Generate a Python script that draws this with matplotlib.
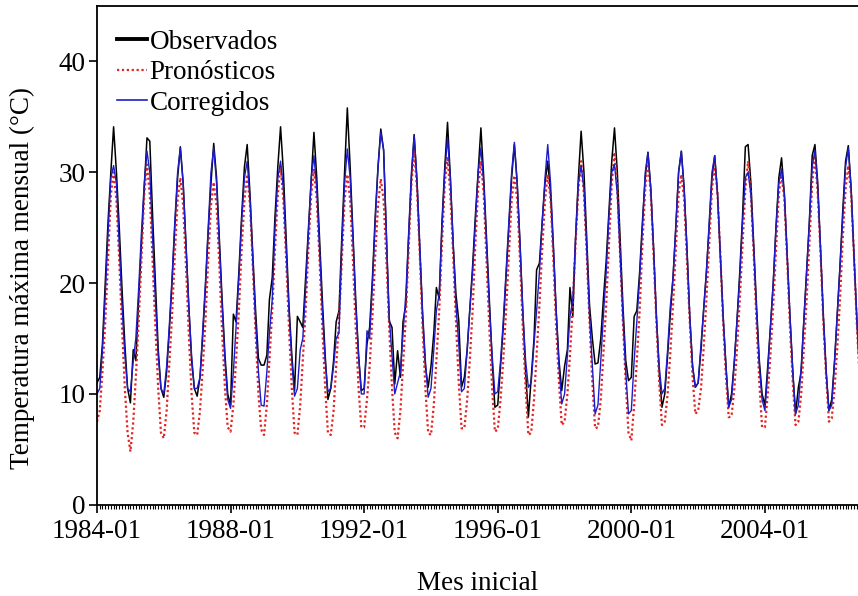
import matplotlib
matplotlib.use('Agg')
import matplotlib.pyplot as plt
import matplotlib.dates as mdates
from matplotlib.lines import Line2D
import numpy as np
import pandas as pd

plt.rcParams['font.family'] = ['Liberation Serif', 'DejaVu Serif']

# monthly maximum temperature (degC), one row per year, Jan..Dec, 1984-2006
observados = [
    [11.0, 11.5, 14.5, 20.0, 25.5, 30.0, 34.1, 30.0, 25.0, 19.5, 14.5, 10.5],
    [9.2, 14.0, 13.0, 18.5, 23.5, 28.5, 33.1, 32.8, 26.0, 20.0, 14.0, 10.5],
    [9.7, 12.0, 15.5, 20.0, 25.0, 29.5, 32.3, 29.0, 23.5, 18.0, 13.0, 10.5],
    [9.8, 11.5, 15.0, 19.5, 24.5, 29.0, 32.6, 29.5, 24.0, 18.5, 13.5, 10.0],
    [9.0, 17.2, 16.5, 21.0, 26.0, 30.5, 32.5, 28.0, 22.5, 17.5, 13.2, 12.6],
    [12.6, 13.5, 18.5, 20.5, 26.0, 30.5, 34.1, 30.0, 24.0, 18.0, 13.5, 10.3],
    [17.0, 16.5, 16.0, 20.5, 25.0, 29.5, 33.6, 29.5, 24.0, 18.5, 13.5, 9.5],
    [10.5, 13.0, 16.5, 17.5, 24.0, 30.0, 35.8, 30.5, 24.5, 18.5, 13.5, 10.3],
    [10.5, 14.5, 16.0, 20.5, 26.0, 30.5, 33.9, 32.0, 24.0, 16.6, 16.0, 10.9],
    [13.9, 11.5, 16.5, 18.0, 24.0, 29.5, 33.4, 29.0, 23.0, 17.0, 12.5, 10.6],
    [12.5, 15.5, 19.6, 18.6, 25.5, 30.5, 34.5, 29.5, 23.5, 19.0, 16.6, 10.6],
    [11.5, 14.0, 17.5, 21.5, 26.0, 30.0, 34.0, 29.5, 24.0, 18.5, 13.0, 8.8],
    [9.0, 12.5, 16.0, 20.5, 25.0, 29.5, 32.5, 29.0, 23.5, 17.5, 12.0, 7.9],
    [11.5, 15.0, 21.2, 21.8, 25.5, 29.0, 31.0, 28.0, 23.0, 17.5, 13.0, 10.3],
    [12.5, 14.0, 19.6, 17.0, 24.0, 29.5, 33.7, 30.0, 24.0, 18.0, 15.0, 12.7],
    [12.8, 15.0, 18.5, 22.0, 26.5, 31.0, 34.0, 30.0, 24.0, 18.0, 13.0, 11.2],
    [11.5, 17.0, 17.5, 21.0, 25.5, 29.5, 31.8, 28.5, 23.0, 17.0, 12.0, 8.8],
    [10.0, 13.5, 17.0, 20.5, 25.0, 30.0, 31.9, 28.5, 23.0, 17.0, 12.5, 10.6],
    [11.0, 14.0, 17.5, 21.0, 25.0, 29.5, 31.5, 28.0, 22.5, 17.0, 12.5, 8.8],
    [10.0, 13.0, 16.5, 21.0, 26.0, 32.3, 32.5, 29.0, 23.5, 18.0, 13.0, 10.0],
    [9.0, 12.5, 16.0, 20.0, 25.0, 29.5, 31.3, 28.0, 22.5, 17.0, 12.0, 8.2],
    [10.6, 12.0, 16.5, 21.0, 25.5, 31.5, 32.5, 29.0, 23.0, 17.0, 12.0, 8.5],
    [9.5, 13.0, 17.0, 21.5, 26.5, 31.0, 32.4, 28.5, 22.5, 17.0, 12.0, 9.5],
]

pronosticos = [
    [7.5, 8.5, 12.0, 16.5, 22.0, 28.0, 30.0, 27.5, 22.0, 16.0, 10.5, 6.5],
    [4.8, 7.5, 11.5, 16.5, 22.0, 28.0, 30.7, 28.0, 22.0, 16.0, 10.5, 6.5],
    [6.0, 8.5, 12.5, 17.0, 22.5, 27.5, 29.5, 27.0, 21.5, 15.5, 10.0, 6.5],
    [6.3, 8.5, 12.0, 16.5, 22.0, 27.0, 29.1, 27.0, 21.5, 15.5, 10.5, 7.0],
    [6.6, 9.0, 13.0, 17.5, 23.0, 27.5, 29.8, 27.0, 21.5, 15.5, 10.0, 6.8],
    [6.3, 9.0, 13.0, 17.5, 23.0, 28.0, 30.6, 27.5, 22.0, 16.0, 10.5, 6.5],
    [6.3, 9.0, 13.0, 17.5, 23.0, 28.0, 30.3, 27.5, 22.0, 16.0, 10.5, 6.5],
    [6.3, 8.5, 12.5, 16.5, 22.0, 27.5, 29.8, 27.5, 22.0, 16.0, 10.5, 7.0],
    [7.0, 9.5, 12.5, 17.0, 22.5, 27.0, 29.4, 27.5, 22.0, 16.0, 10.5, 6.5],
    [6.0, 8.5, 12.5, 17.0, 23.0, 29.0, 31.9, 28.5, 22.5, 16.0, 10.5, 6.5],
    [6.3, 9.0, 13.0, 17.5, 23.5, 29.0, 31.4, 28.0, 22.5, 16.5, 11.0, 6.9],
    [6.9, 9.5, 13.0, 17.5, 23.5, 28.5, 31.0, 28.0, 22.0, 16.0, 10.5, 6.6],
    [6.8, 9.5, 13.0, 17.5, 22.5, 27.5, 29.7, 27.5, 22.0, 16.0, 10.5, 6.3],
    [6.5, 9.5, 13.5, 18.0, 23.0, 27.5, 29.8, 27.5, 22.0, 16.0, 11.0, 7.2],
    [7.5, 10.0, 13.5, 18.0, 23.5, 28.5, 31.0, 28.0, 22.5, 16.5, 11.0, 6.9],
    [7.0, 9.5, 13.5, 18.0, 23.5, 29.0, 31.8, 28.5, 22.5, 16.5, 11.0, 6.5],
    [5.8, 9.0, 13.0, 17.5, 23.5, 28.5, 31.0, 28.0, 22.5, 16.5, 11.0, 7.2],
    [7.5, 10.0, 13.5, 18.0, 23.0, 28.0, 29.8, 27.5, 22.0, 16.5, 11.5, 8.2],
    [8.5, 10.5, 14.0, 18.5, 23.5, 28.5, 30.7, 28.0, 22.5, 16.5, 11.5, 7.9],
    [8.0, 10.5, 14.0, 18.5, 23.5, 28.5, 31.0, 28.0, 22.5, 16.5, 11.0, 7.0],
    [7.0, 10.0, 13.5, 18.0, 23.0, 28.0, 29.8, 27.5, 22.0, 16.0, 11.0, 7.2],
    [7.5, 10.0, 14.0, 18.5, 23.5, 29.0, 31.5, 28.0, 22.5, 16.5, 11.5, 7.5],
    [7.8, 10.5, 14.0, 18.5, 24.0, 28.5, 30.6, 28.0, 22.5, 16.5, 11.5, 8.0],
]

corregidos = [
    [10.0, 10.5, 14.0, 19.0, 24.5, 29.5, 30.6, 29.0, 23.5, 18.0, 13.5, 10.5],
    [10.2, 13.0, 15.0, 19.5, 24.5, 29.0, 31.9, 30.0, 24.0, 18.5, 13.5, 10.5],
    [10.0, 12.5, 16.0, 20.5, 25.5, 30.0, 32.2, 29.0, 23.5, 18.0, 13.5, 10.5],
    [10.5, 11.5, 15.5, 20.0, 25.0, 30.0, 32.2, 29.0, 23.5, 18.0, 13.0, 9.5],
    [8.7, 12.0, 16.0, 20.5, 25.5, 29.5, 31.0, 27.5, 22.0, 16.5, 12.0, 9.0],
    [8.9, 12.0, 15.5, 18.5, 25.0, 29.5, 31.0, 28.5, 23.0, 17.5, 13.0, 9.8],
    [10.5, 14.0, 15.0, 19.5, 24.5, 29.5, 31.5, 28.5, 23.0, 17.5, 13.0, 10.2],
    [10.5, 12.5, 15.0, 15.5, 23.0, 29.0, 32.1, 29.5, 24.0, 18.0, 13.5, 10.0],
    [10.0, 15.7, 15.0, 20.0, 25.5, 30.5, 33.6, 32.0, 24.5, 17.0, 13.5, 10.0],
    [11.0, 12.0, 15.5, 19.0, 24.5, 30.0, 33.3, 29.5, 23.5, 17.5, 13.0, 9.7],
    [10.5, 14.0, 17.5, 19.0, 25.0, 30.0, 33.1, 29.5, 23.5, 18.0, 14.5, 10.2],
    [10.5, 14.0, 17.5, 21.0, 25.5, 30.0, 32.2, 29.0, 23.5, 18.0, 13.5, 10.0],
    [10.2, 13.0, 16.5, 21.0, 25.5, 30.0, 32.7, 29.0, 23.5, 17.5, 13.0, 10.6],
    [11.0, 14.5, 17.5, 21.0, 25.5, 29.5, 32.5, 29.0, 23.5, 17.5, 12.5, 9.1],
    [10.0, 13.5, 17.0, 18.5, 24.0, 29.0, 30.6, 28.5, 23.0, 17.0, 12.5, 8.2],
    [9.0, 13.0, 17.0, 21.0, 26.0, 30.0, 30.7, 28.0, 22.5, 17.0, 12.0, 8.2],
    [8.5, 13.0, 16.5, 20.5, 25.0, 30.0, 31.8, 28.5, 23.0, 17.0, 12.5, 10.0],
    [10.5, 14.0, 17.8, 20.5, 25.0, 30.0, 31.9, 28.5, 23.0, 17.0, 12.5, 10.6],
    [11.0, 14.5, 17.5, 21.0, 25.5, 30.0, 31.5, 28.0, 22.5, 17.0, 12.5, 8.8],
    [9.5, 13.0, 16.5, 20.5, 25.5, 29.5, 30.0, 28.0, 23.0, 17.5, 12.5, 9.5],
    [8.5, 12.0, 16.0, 20.0, 25.0, 29.0, 30.3, 28.0, 22.5, 17.0, 12.0, 8.2],
    [9.0, 12.5, 16.5, 21.0, 25.5, 30.5, 32.0, 28.5, 23.0, 17.0, 12.0, 8.5],
    [9.0, 13.0, 17.0, 21.5, 26.0, 30.5, 32.2, 28.5, 22.5, 17.0, 12.0, 9.5],
]

y_ticks = [0, 10, 20, 30, 40]


def main():
    obs = np.ravel(observados)
    pron = np.ravel(pronosticos)
    corr = np.ravel(corregidos)
    fechas = pd.date_range('1984-01-01', periods=len(obs), freq='MS')

    fig = plt.figure(figsize=(8.58, 5.96), dpi=100)
    ax = fig.add_axes([0.113, 0.153, 0.887, 0.837])

    ax.plot(fechas, obs, color='black', lw=1.1)
    ax.plot(fechas, pron, color='#e02525', lw=1.6, ls=(0, (1, 1.2)))
    ax.plot(fechas, corr, color='#1c1cc8', lw=1.0)

    ax.set_ylim(0, 45)
    ax.set_xlim(pd.Timestamp('1984-01-01'), pd.Timestamp('2006-10-15'))
    ax.set_yticks(y_ticks)

    ax.xaxis.set_major_locator(mdates.YearLocator(4, month=1, day=1))
    ax.xaxis.set_major_formatter(mdates.DateFormatter('%Y-%m'))
    ax.xaxis.set_minor_locator(mdates.MonthLocator())

    ax.tick_params(axis='both', which='major', labelsize=19.5, width=1.2,
                   length=6, direction='out', color='black')
    ax.tick_params(axis='x', which='minor', width=0.8, length=3, direction='out')
    ax.tick_params(axis='x', pad=4)
    ax.tick_params(axis='y', pad=2)

    for side in ['left', 'bottom', 'top']:
        ax.spines[side].set_linewidth(1.3)
    ax.spines['right'].set_visible(False)

    ax.set_xlabel('Mes inicial', fontsize=19.5, labelpad=20)
    ax.set_ylabel('Temperatura máxima mensual (°C)', fontsize=19.5)
    ax.yaxis.set_label_coords(-0.082, 0.455)

    handles = [
        Line2D([], [], color='black', lw=2.8),
        Line2D([], [], color='#e02525', lw=1.6, ls=(0, (1, 1.2))),
        Line2D([], [], color='#1c1cc8', lw=1.2),
    ]
    ax.legend(handles, ['Observados', 'Pronósticos', 'Corregidos'],
              loc='upper left', bbox_to_anchor=(0.005, 0.985), frameon=False,
              fontsize=19.5, handlelength=1.1, handletextpad=0.1,
              labelspacing=0.2, borderaxespad=0.2)

    fig.savefig('out.png', dpi=100)


if __name__ == '__main__':
    main()
